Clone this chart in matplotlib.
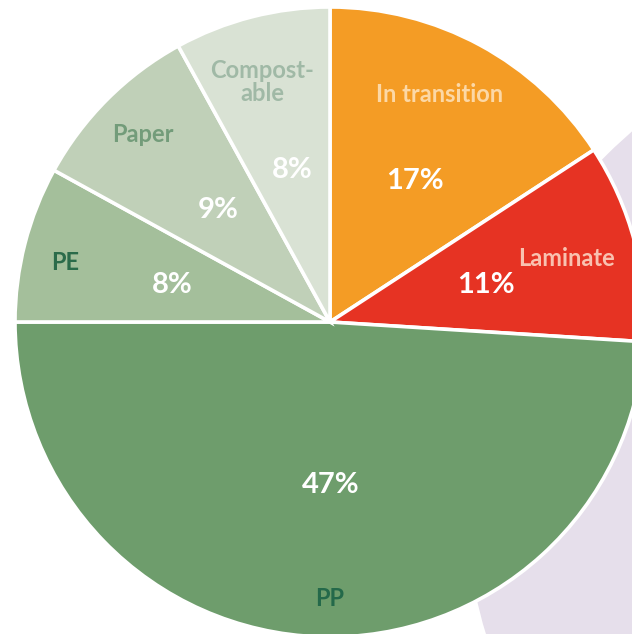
import matplotlib
matplotlib.use("Agg")
import matplotlib.pyplot as plt
from matplotlib.patches import Circle

# data, clockwise from 12 o'clock
materials = ["In transition", "Laminate", "PP", "PE", "Paper", "Compost-\nable"]
# slice shares as drawn in the graphic (angles do not quite follow the printed %)
shares = [15.8, 10.2, 49.0, 8.0, 9.0, 8.0]
pct_labels = ["17%", "11%", "47%", "8%", "9%", "8%"]

colors = ["#F49C25", "#E63323", "#6E9D6C", "#A4BF9B", "#C0D0B8", "#D9E2D4"]
name_colors = ["#FCD8A6", "#F9C2B0", "#24694A", "#2B6B4A", "#739C7A", "#A0B9A6"]

W, H = 632, 634
cx, cy, R = 330, H - 322, 315

# label layout in pixels (x, y from top)
name_pos = [(440, 95), (566, 258), (330, 598), (65, 262), (143, 135), (262, 82)]
pct_pos = [(415, 181), (486, 285), (331, 485), (172, 285), (218, 210), (292, 170)]

fig = plt.figure(figsize=(W / 100, H / 100), dpi=100)
ax = fig.add_axes([0, 0, 1, 1])

# lilac disc behind the pie
ax.add_patch(Circle((945, H - 495), 479, color="#E6DFEB", zorder=0))

wedges, _ = ax.pie(shares, colors=colors, startangle=90, counterclock=False,
                   center=(cx, cy), radius=R, frame=True,
                   wedgeprops=dict(edgecolor="white", linewidth=2.6))
for w in wedges:
    w.set_zorder(2)

font = "Lato"
for i in range(len(materials)):
    x, y = name_pos[i]
    ax.text(x, H - y, materials[i], ha="center", va="center", color=name_colors[i],
            fontsize=17, fontweight="bold", family=font, linespacing=1.0, zorder=3)
    x, y = pct_pos[i]
    ax.text(x, H - y, pct_labels[i], ha="center", va="center", color="white",
            fontsize=21, fontweight="bold", family=font, zorder=3)

ax.set_xlim(0, W)
ax.set_ylim(0, H)
ax.set_aspect("auto")
ax.axis("off")

fig.savefig("out.png", dpi=100)
